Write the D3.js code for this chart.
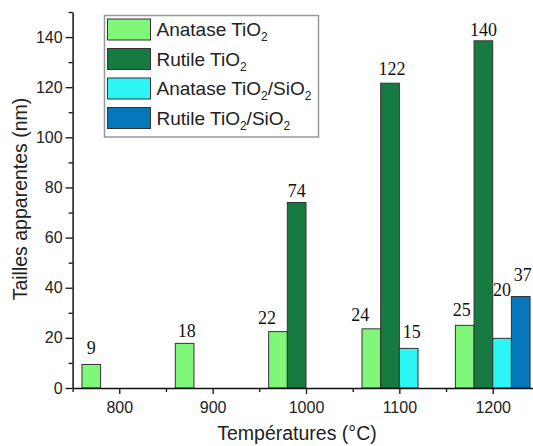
<!DOCTYPE html>
<html>
<head>
<meta charset="utf-8">
<script src="https://cdn.jsdelivr.net/npm/d3@7"></script>
<style>
  html, body { margin: 0; padding: 0; background: #fff; }
  svg { display: block; }
</style>
</head>
<body>
<svg id="chart" width="533" height="446"></svg>
<script>
// ---- data ----
const temperatures = [800, 900, 1000, 1100, 1200];
const seriesNames = ["Anatase TiO", "Rutile TiO", "Anatase TiO", "Rutile TiO"];
const seriesSuffix = ["", "", "/SiO", "/SiO"];
const anataseTiO2 = [9.4, 17.8, 22.5, 23.6, 25];
const rutileTiO2 = [null, null, 74, 121.6, 138.5];
const anataseTiO2SiO2 = [null, null, null, 15.8, 19.8];
const rutileTiO2SiO2 = [null, null, null, null, 36.5];
const anataseLabels = ["9", "18", "22", "24", "25"];
const rutileLabels = [null, null, "74", "122", "140"];
const anataseSiLabels = [null, null, null, "15", "20"];
const rutileSiLabels = [null, null, null, null, "37"];
const yTicks = [0, 20, 40, 60, 80, 100, 120, 140];
const xTicks = [800, 900, 1000, 1100, 1200];

// ---- styling ----
const colors = ["#80F77A", "#177A40", "#2BF5F5", "#0777BB"];
const offsets = [-40, -20, 0, 20]; // in °C relative to temperature
const barW = 20;
// label pixel nudges [dx, dy] per series per category
const labelNudge = [
  [[0, -10], [2, -6], [-11, -8], [-11, -8], [-3, -9]],
  [null, null, [0, -6], [2, -8], [0, -5]],
  [null, null, null, [3, -10], [0, -42]],
  [null, null, null, null, [2, -16]]
];

const values = [anataseTiO2, rutileTiO2, anataseTiO2SiO2, rutileTiO2SiO2];
const labels = [anataseLabels, rutileLabels, anataseSiLabels, rutileSiLabels];

const svg = d3.select("#chart");
const x = d3.scaleLinear().domain([750, 1250]).range([72.6, 539.4]);
const y = d3.scaleLinear().domain([0, 150]).range([388, 12]);

const sans = "'Liberation Sans', Arial, sans-serif";
const serif = "'Liberation Serif', 'Times New Roman', serif";

// bars
values.forEach((vals, si) => {
  const data = temperatures.map((t, i) => ({t, v: vals[i], lab: labels[si][i], i})).filter(d => d.v != null);
  svg.append("g").selectAll("rect").data(data).join("rect")
    .attr("x", d => x(d.t + offsets[si]))
    .attr("width", d => x(d.t + offsets[si] + barW) - x(d.t + offsets[si]))
    .attr("y", d => y(d.v))
    .attr("height", d => y(0) - y(d.v))
    .attr("fill", colors[si])
    .attr("stroke", "#333")
    .attr("stroke-width", 1);
  svg.append("g").selectAll("text").data(data).join("text")
    .attr("x", d => x(d.t + offsets[si] + barW / 2) + labelNudge[si][d.i][0])
    .attr("y", d => y(d.v) + labelNudge[si][d.i][1])
    .attr("text-anchor", "middle")
    .attr("font-family", serif)
    .attr("font-size", 18)
    .attr("fill", "#111")
    .text(d => d.lab);
});

// y axis
const yAxis = svg.append("g").attr("transform", `translate(${x(750)},0)`)
  .call(d3.axisLeft(y).tickValues(yTicks).tickSize(7).tickPadding(3).tickSizeOuter(0));
const yMinor = svg.append("g").attr("transform", `translate(${x(750)},0)`)
  .call(d3.axisLeft(y).tickValues([10, 30, 50, 70, 90, 110, 130, 150]).tickSize(4).tickFormat(""));
yMinor.select(".domain").remove();

// x axis
const xAxis = svg.append("g").attr("transform", `translate(0,${y(0)})`)
  .call(d3.axisBottom(x).tickValues(xTicks).tickFormat(d3.format("d")).tickSize(6).tickPadding(8).tickSizeOuter(0));
const xMinor = svg.append("g").attr("transform", `translate(0,${y(0)})`)
  .call(d3.axisBottom(x).tickValues([750, 850, 950, 1050, 1150]).tickSize(4).tickFormat(""));
xMinor.select(".domain").remove();

[yAxis, xAxis, yMinor, xMinor].forEach(g => {
  g.selectAll(".domain").attr("stroke", "#111").attr("stroke-width", 1.5);
  g.selectAll(".tick line").attr("stroke", "#111").attr("stroke-width", 1.3);
  g.selectAll(".tick text").attr("font-family", sans).attr("font-size", 16).attr("fill", "#222");
});

// axis titles
svg.append("text")
  .attr("x", 297).attr("y", 440)
  .attr("text-anchor", "middle")
  .attr("font-family", sans).attr("font-size", 19.5).attr("fill", "#222")
  .text("Températures (°C)");
svg.append("text")
  .attr("transform", "translate(27,199) rotate(-90)")
  .attr("text-anchor", "middle")
  .attr("font-family", sans).attr("font-size", 19.5).attr("fill", "#222")
  .text("Tailles apparentes (nm)");

// legend
const lg = svg.append("g");
lg.append("rect").attr("x", 104.5).attr("y", 15.5).attr("width", 214).attr("height", 121.5)
  .attr("fill", "#fff").attr("stroke", "#999").attr("stroke-width", 1.5);
seriesNames.forEach((n, i) => {
  const cy = 29.5 + i * 29.5;
  lg.append("rect").attr("x", 107.5).attr("y", cy - 10.5).attr("width", 43).attr("height", 21)
    .attr("fill", colors[i]).attr("stroke", "#333").attr("stroke-width", 1);
  const t = lg.append("text").attr("x", 156.5).attr("y", cy + 6.5)
    .attr("font-family", sans).attr("font-size", 19).attr("fill", "#222");
  t.append("tspan").text(n);
  t.append("tspan").attr("font-size", 12).attr("dy", 5).text("2");
  if (seriesSuffix[i]) {
    t.append("tspan").attr("dy", -5).text(seriesSuffix[i]);
    t.append("tspan").attr("font-size", 12).attr("dy", 5).text("2");
  }
});
</script>
</body>
</html>
